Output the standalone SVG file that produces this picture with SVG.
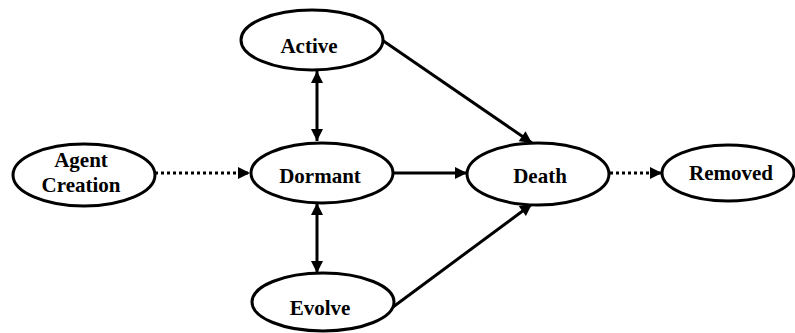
<svg xmlns="http://www.w3.org/2000/svg" width="795" height="333" viewBox="0 0 795 333">
<style>
.n ellipse{fill:#fff;stroke:#000;stroke-width:3}
.n text{font-family:'Liberation Serif','DejaVu Serif',serif;font-weight:700;font-size:21px;text-anchor:middle;fill:#000}
.c line{stroke:#000;stroke-width:3}
.d{stroke-dasharray:3 3}
</style>
<defs>
<marker id="ah" viewBox="0 0 10 10" refX="10" refY="5" markerWidth="4.2" markerHeight="4" markerUnits="strokeWidth" orient="auto-start-reverse">
<path d="M0,0 L10,5 L0,10 Z" fill="#000"/>
</marker>
</defs>
<g class="c">
<line x1="317" y1="71" x2="317" y2="141" marker-start="url(#ah)" marker-end="url(#ah)"/>
<line x1="317" y1="203" x2="317" y2="273" marker-start="url(#ah)" marker-end="url(#ah)"/>
<line class="d" x1="155" y1="173" x2="250" y2="173" marker-end="url(#ah)"/>
<line x1="394" y1="173" x2="467" y2="173" marker-end="url(#ah)"/>
<line class="d" x1="610" y1="173" x2="662" y2="173" marker-end="url(#ah)"/>
<line x1="382" y1="40" x2="532" y2="143" marker-end="url(#ah)"/>
<line x1="393" y1="307" x2="532" y2="204" marker-end="url(#ah)"/>
</g>
<g id="active" class="n"><ellipse cx="312" cy="40" rx="71" ry="30"/><text x="309" y="53">Active</text></g>
<g id="agent" class="n"><ellipse cx="84" cy="175" rx="71" ry="31"/><text x="81" y="167">Agent</text><text x="81" y="192">Creation</text></g>
<g id="dormant" class="n"><ellipse cx="322" cy="173" rx="71" ry="30"/><text x="320" y="183">Dormant</text></g>
<g id="death" class="n"><ellipse cx="538" cy="174" rx="71" ry="31"/><text x="540" y="183">Death</text></g>
<g id="removed" class="n"><ellipse cx="728" cy="173" rx="66" ry="28"/><text x="731" y="180">Removed</text></g>
<g id="evolve" class="n"><ellipse cx="323" cy="302" rx="71" ry="29"/><text x="320" y="315">Evolve</text></g>
</svg>
